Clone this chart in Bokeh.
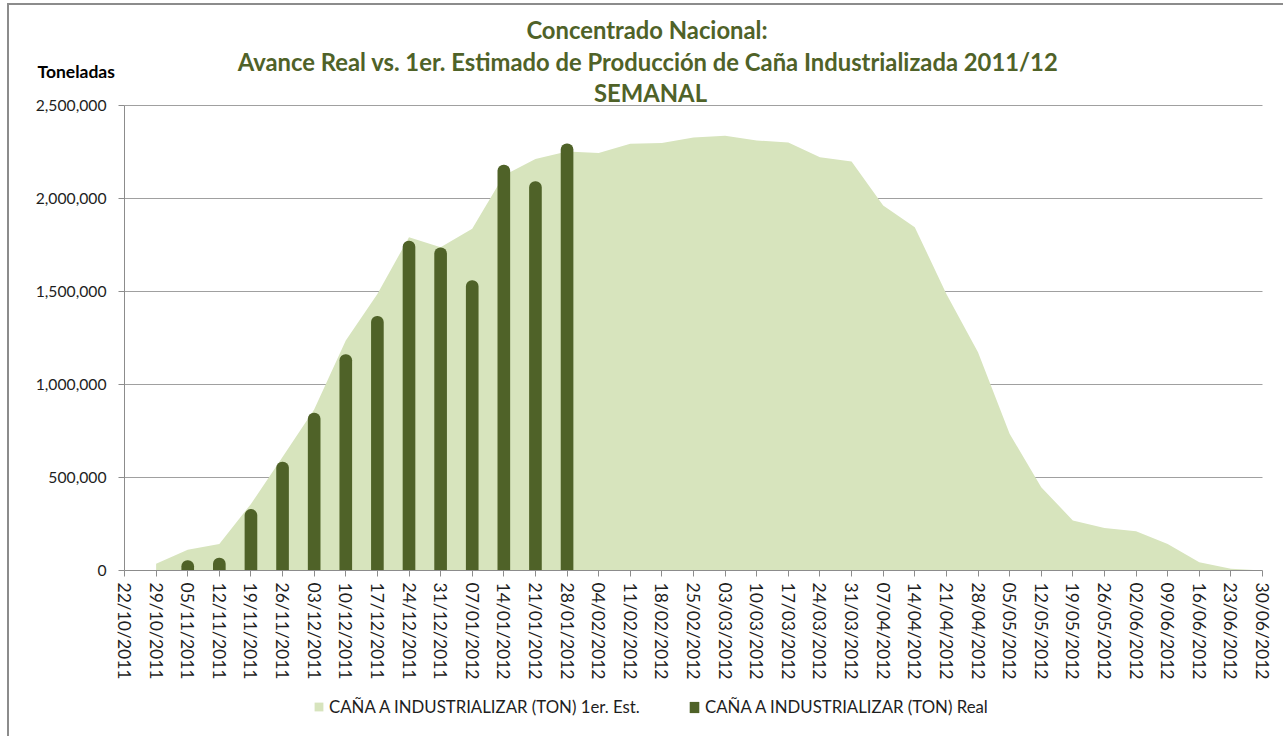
import math
from bokeh.plotting import figure
from bokeh.models import (Range1d, FixedTicker, NumeralTickFormatter, Label,
                          Legend, LegendItem, ColumnDataSource)
from bokeh.embed import file_html
from bokeh.resources import INLINE

# ---------------- data ----------------
dates = ["22/10/2011", "29/10/2011", "05/11/2011", "12/11/2011", "19/11/2011",
         "26/11/2011", "03/12/2011", "10/12/2011", "17/12/2011", "24/12/2011",
         "31/12/2011", "07/01/2012", "14/01/2012", "21/01/2012", "28/01/2012",
         "04/02/2012", "11/02/2012", "18/02/2012", "25/02/2012", "03/03/2012",
         "10/03/2012", "17/03/2012", "24/03/2012", "31/03/2012", "07/04/2012",
         "14/04/2012", "21/04/2012", "28/04/2012", "05/05/2012", "12/05/2012",
         "19/05/2012", "26/05/2012", "02/06/2012", "09/06/2012", "16/06/2012",
         "23/06/2012", "30/06/2012"]

est_dates = dates[1:]
est_values = [36000, 111000, 143000, 358000, 610000, 865000, 1237000, 1487000,
              1792000, 1738000, 1837000, 2124000, 2213000, 2253000, 2245000,
              2294000, 2299000, 2328000, 2337000, 2312000, 2301000, 2222000,
              2199000, 1962000, 1846000, 1487000, 1174000, 735000, 448000,
              269000, 229000, 211000, 143000, 45000, 9000, 0]

real_dates = dates[2:15]
real_values = [55000, 68000, 330000, 585000, 848000, 1163000, 1368000,
               1773000, 1737000, 1561000, 2182000, 2093000, 2296000]

y_ticks = [0, 500000, 1000000, 1500000, 2000000, 2500000]

title_lines = ["Concentrado Nacional:",
               "Avance Real vs. 1er. Estimado de Producción de Caña Industrializada 2011/12",
               "SEMANAL"]
y_title = "Toneladas"
label_est = "CAÑA A INDUSTRIALIZAR (TON) 1er. Est."
label_real = "CAÑA A INDUSTRIALIZAR (TON) Real"

# ---------------- styling ----------------
LIGHT = "#D7E4BD"
DARK = "#4F6228"
GRID = "#A0A0A0"
AXIS = "#8C8C8C"
TXT = "#1E1E1E"
FONT = "Lato"

# ---------------- page geometry ----------------
OX, OY = 9, 5                 # canvas origin on the page
W, H = 1276, 733
FL, FR, FT, FB = 124, 1262, 105, 570   # plot area edges in page pixels
NX = len(dates) - 1
YMAX = y_ticks[-1]
xpp = NX / (FR - FL)          # data units per pixel
ypp = YMAX / (FB - FT)
x_range = Range1d(-(FL - OX) * xpp, NX + (OX + W - FR) * xpp)
y_range = Range1d(-(OY + H - FB) * ypp, YMAX + (FT - OY) * ypp)

def sx(px):          # page x -> screen units of the frame (frame == canvas)
    return px - OX

def sy(py):          # page y -> screen units measured from the bottom
    return (OY + H) - py

pos = {d: i for i, d in enumerate(dates)}
est_src = ColumnDataSource(dict(x=[pos[d] for d in est_dates], y=est_values,
                                z=[0] * len(est_values)))
real_src = ColumnDataSource(dict(x=[pos[d] for d in real_dates], top=real_values))
grid_src = ColumnDataSource(dict(x0=[0] * (len(y_ticks) - 1),
                                 x1=[NX] * (len(y_ticks) - 1), y=y_ticks[1:]))

p = figure(width=W, height=H, output_backend="svg", toolbar_location=None,
           x_range=x_range, y_range=y_range, min_border=0)
p.styles = {"border-top": "2px solid #8C8C8C", "border-left": "2px solid #8C8C8C",
            "margin-top": "3px", "margin-left": "7px"}
p.title.visible = False
p.outline_line_color = None
p.background_fill_color = "white"
p.border_fill_color = "white"
p.xgrid.visible = False
p.ygrid.visible = False

# horizontal gridlines across the plot area only
p.segment(x0="x0", x1="x1", y0="y", y1="y", source=grid_src,
          line_color=GRID, line_width=1)

area_r = p.varea(x="x", y1="z", y2="y", source=est_src, fill_color=LIGHT)
bar_r = p.vbar(x="x", top="top", bottom=0, width=0.4, source=real_src,
               fill_color=DARK, line_color=None, border_radius=(6, 6, 0, 0))

# axes pinned at the data origin
xa = p.xaxis[0]
xa.fixed_location = 0
xa.bounds = (0, NX)
xa.ticker = FixedTicker(ticks=list(range(len(dates))))
xa.major_label_overrides = {i: d for i, d in enumerate(dates)}
xa.major_label_orientation = -math.pi / 2
xa.major_label_text_font = FONT
xa.major_label_text_font_size = "17.5px"
xa.major_label_text_color = TXT
xa.major_label_standoff = 6
xa.major_tick_out = 6
xa.major_tick_in = 0
xa.minor_tick_out = 0
xa.minor_tick_in = 0
xa.axis_line_color = AXIS
xa.major_tick_line_color = AXIS

ya = p.yaxis[0]
ya.fixed_location = 0
ya.bounds = (0, YMAX)
ya.ticker = FixedTicker(ticks=y_ticks)
ya.formatter = NumeralTickFormatter(format="0,0")
ya.major_label_text_font = FONT
ya.major_label_text_font_size = "15.7px"
ya.major_label_text_color = TXT
ya.major_label_standoff = 12
ya.major_tick_out = 6
ya.major_tick_in = 0
ya.minor_tick_out = 0
ya.minor_tick_in = 0
ya.axis_line_color = AXIS
ya.major_tick_line_color = AXIS

# titles
for txt, cx, cy in zip(title_lines, [646.5, 647.5, 650], [29, 61, 92]):
    p.add_layout(Label(x=sx(cx), y=sy(cy), x_units="screen", y_units="screen",
                       text=txt, text_align="center", text_baseline="middle",
                       text_font=FONT, text_font_style="bold",
                       text_font_size="23.8px", text_color=DARK))

p.add_layout(Label(x=sx(37), y=sy(71), x_units="screen", y_units="screen",
                   text=y_title, text_align="left", text_baseline="middle",
                   text_font=FONT, text_font_style="bold",
                   text_font_size="17.5px", text_color="black"))

# legends
def make_legend(label, rend, gx, gw, gh):
    return Legend(items=[LegendItem(label=label, renderers=[rend])],
                  location=(sx(gx), sy(707 + 10)),
                  orientation="horizontal", padding=0, margin=0, spacing=0,
                  border_line_color=None, background_fill_alpha=0,
                  glyph_width=gw, glyph_height=gh, label_standoff=5,
                  label_height=20, label_text_font=FONT,
                  label_text_font_size="16.8px", label_text_color=TXT,
                  label_text_baseline="middle")

p.add_layout(make_legend(label_est, area_r, 313, 11, 11))
p.add_layout(make_legend(label_real, bar_r, 688, 12, 14))

open("out.html", "w").write(file_html(p, INLINE))
